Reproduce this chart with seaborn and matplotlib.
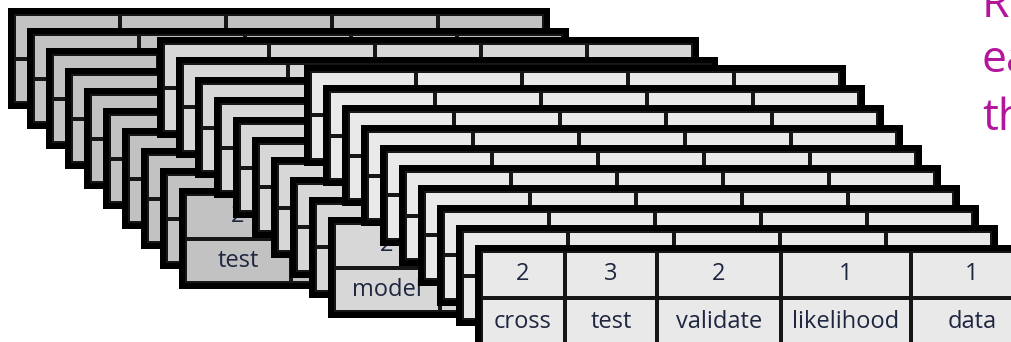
import numpy as np
import matplotlib
matplotlib.use("Agg")
import matplotlib.pyplot as plt
from matplotlib.colors import ListedColormap
import seaborn as sns

# front document of the last stack (fully visible)
front_counts = [2, 3, 2, 1, 1]
front_words = ["cross", "test", "validate", "likelihood", "data"]

# front documents of the two stacks behind: only the first column shows
back_counts = [2, 2]
back_words = ["test", "model"]

docs_per_stack = 10
side_text = ["Re", "ea", "th"]

sns.set_style("white")
plt.rcParams["font.family"] = ["Open Sans", "DejaVu Sans"]

W, H = 1011, 342
fig = plt.figure(figsize=(W / 100, H / 100), dpi=100)
fig.patch.set_facecolor("white")

stack_origin = [(8, 8), (157, 37), (304, 65)]
stack_fill = ["#c2c2c2", "#d7d7d7", "#e9e9e9"]
DX, DY = 19, 20
CARD_W, CARD_H, B = 542, 101, 6
TEXT_COLOR = "#1e2640"


def px_axes(x, y, w, h):
    return fig.add_axes([x / W, 1 - (y + h) / H, w / W, h / H])


def draw_card(x, y, widths, counts, words, fill, height=CARD_H):
    total = sum(widths) + 2 * B
    frame = px_axes(x, y, total, height)
    frame.set_facecolor("black")
    frame.set_xticks([])
    frame.set_yticks([])
    for s in frame.spines.values():
        s.set_visible(False)
    cx = x + B
    for w, c, wd in zip(widths, counts, words):
        ax = px_axes(cx, y + B, w, height - 2 * B)
        sns.heatmap(np.zeros((2, 1)), ax=ax, cmap=ListedColormap([fill]),
                    vmin=0, vmax=1, cbar=False,
                    annot=np.array([[c], [wd]], dtype=object), fmt="",
                    annot_kws={"fontsize": 17, "color": TEXT_COLOR},
                    linewidths=1.5, linecolor="#161616",
                    xticklabels=False, yticklabels=False)
        for s in ax.spines.values():
            s.set_visible(False)
        cx += w


even = [(CARD_W - 2 * B) / 5] * 5
for s, ((x0, y0), fill) in enumerate(zip(stack_origin, stack_fill)):
    for k in range(docs_per_stack):
        x, y = x0 + DX * k, y0 + DY * k
        last = k == docs_per_stack - 1
        if last and s == 2:
            draw_card(x, y, [84, 92, 124, 130, 122],
                      [str(v) for v in front_counts], front_words, fill,
                      height=106)
        elif last:
            draw_card(x, y, even, [str(back_counts[s])] + [""] * 4,
                      [back_words[s]] + [""] * 4, fill)
        else:
            draw_card(x, y, even, [""] * 5, [""] * 5, fill)

for line, base in zip(side_text, [17, 72, 130]):
    fig.text(982 / W, 1 - base / H, line, color="#b3169c", fontsize=32,
             ha="left", va="baseline")

fig.savefig("out.png", dpi=100)
